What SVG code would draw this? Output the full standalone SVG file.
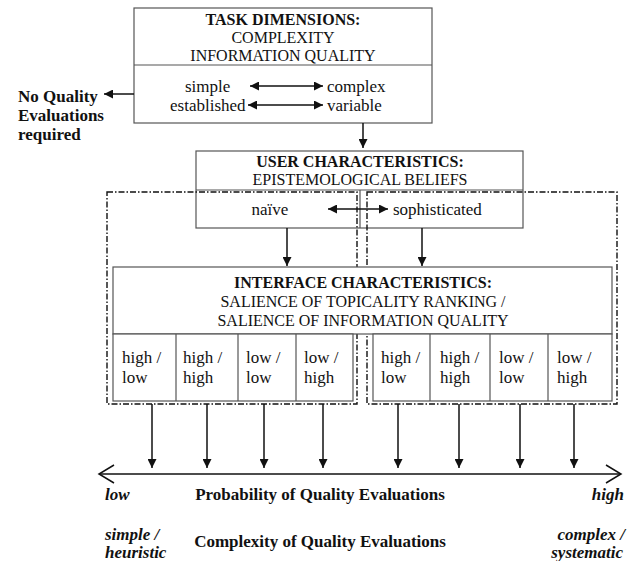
<svg xmlns="http://www.w3.org/2000/svg" width="633" height="561" viewBox="0 0 633 561">
<style>
text{font-family:"Liberation Serif","Times New Roman",serif;fill:#111}
.h{font-size:16px;font-weight:bold}
.s{font-size:16px}
.l{font-size:17px}
.b{font-size:17px;font-weight:bold}
.bi{font-size:17px;font-weight:bold;font-style:italic}
.box{fill:#fff;stroke:#555;stroke-width:1.2}
.ln{stroke:#555;stroke-width:1.2;fill:none}
.dd{fill:none;stroke:#111;stroke-width:1.4;stroke-dasharray:6 2 1.5 2}
.ar{stroke:#111;stroke-width:1.5;fill:none}
</style>
<defs>
<marker id="ah" viewBox="0 0 10 10" refX="10" refY="5" markerWidth="9" markerHeight="9" markerUnits="userSpaceOnUse" orient="auto-start-reverse">
<path d="M0,0 L10,5 L0,10 z" fill="#111"/>
</marker>
</defs>

<g id="task">
<rect class="box" x="134" y="8" width="298" height="115"/>
<line class="ln" x1="134" y1="65" x2="432" y2="65"/>
<text class="h" x="283" y="25" text-anchor="middle">TASK DIMENSIONS:</text>
<text class="s" x="283" y="43" text-anchor="middle">COMPLEXITY</text>
<text class="s" x="283" y="61" text-anchor="middle">INFORMATION QUALITY</text>
<text class="l" x="185" y="92">simple</text>
<text class="l" x="327" y="92">complex</text>
<text class="l" x="170" y="111">established</text>
<text class="l" x="327" y="111">variable</text>
</g>

<g id="no-quality">
<text class="b" x="18" y="102">No Quality</text>
<text class="b" x="18" y="121">Evaluations</text>
<text class="b" x="18" y="140">required</text>
</g>

<g id="user">
<rect class="box" x="196" y="151" width="327" height="77"/>
<line class="ln" x1="196" y1="190" x2="523" y2="190"/>
<line class="ln" x1="360" y1="190" x2="360" y2="228"/>
<text class="h" x="360" y="167" text-anchor="middle">USER CHARACTERISTICS:</text>
<text class="s" x="360" y="185" text-anchor="middle">EPISTEMOLOGICAL BELIEFS</text>
<text class="l" x="270" y="215" text-anchor="middle">naïve</text>
<text class="l" x="393" y="215">sophisticated</text>
</g>

<g id="group-naive">
<rect class="dd" x="107" y="192" width="250" height="212"/>
</g>
<g id="group-sophisticated">
<rect class="dd" x="367" y="192" width="250" height="212"/>
</g>

<g id="interface">
<rect class="box" x="113" y="267" width="499" height="67"/>
<text class="h" x="363" y="288" text-anchor="middle">INTERFACE CHARACTERISTICS:</text>
<text class="s" x="363" y="307" text-anchor="middle">SALIENCE OF TOPICALITY RANKING /</text>
<text class="s" x="363" y="326" text-anchor="middle">SALIENCE OF INFORMATION QUALITY</text>
</g>

<g id="cells-naive">
<rect class="box" x="113" y="334" width="240" height="67"/>
<line class="ln" x1="176" y1="334" x2="176" y2="401"/>
<line class="ln" x1="238" y1="334" x2="238" y2="401"/>
<line class="ln" x1="296" y1="334" x2="296" y2="401"/>
<text class="l" x="122" y="363">high /</text><text class="l" x="122" y="383">low</text>
<text class="l" x="183" y="363">high /</text><text class="l" x="183" y="383">high</text>
<text class="l" x="246" y="363">low /</text><text class="l" x="246" y="383">low</text>
<text class="l" x="304" y="363">low /</text><text class="l" x="304" y="383">high</text>
</g>

<g id="cells-sophisticated">
<rect class="box" x="373" y="334" width="239" height="67"/>
<line class="ln" x1="430" y1="334" x2="430" y2="401"/>
<line class="ln" x1="490" y1="334" x2="490" y2="401"/>
<line class="ln" x1="548" y1="334" x2="548" y2="401"/>
<text class="l" x="381" y="363">high /</text><text class="l" x="381" y="383">low</text>
<text class="l" x="440" y="363">high /</text><text class="l" x="440" y="383">high</text>
<text class="l" x="499" y="363">low /</text><text class="l" x="499" y="383">low</text>
<text class="l" x="557" y="363">low /</text><text class="l" x="557" y="383">high</text>
</g>

<g id="connectors">
<line class="ar" x1="250" y1="86" x2="323" y2="86" marker-start="url(#ah)" marker-end="url(#ah)"/>
<line class="ar" x1="248" y1="105" x2="323" y2="105" marker-start="url(#ah)" marker-end="url(#ah)"/>
<line class="ar" x1="134" y1="94" x2="104" y2="94" marker-end="url(#ah)"/>
<line class="ar" x1="363" y1="123" x2="363" y2="148" marker-end="url(#ah)"/>
<line class="ar" x1="328" y1="209" x2="388" y2="209" marker-start="url(#ah)" marker-end="url(#ah)"/>
<line class="ar" x1="287" y1="228" x2="287" y2="266" marker-end="url(#ah)"/>
<line class="ar" x1="422" y1="228" x2="422" y2="266" marker-end="url(#ah)"/>
<line class="ar" x1="152" y1="404" x2="152" y2="468" marker-end="url(#ah)"/>
<line class="ar" x1="207" y1="404" x2="207" y2="468" marker-end="url(#ah)"/>
<line class="ar" x1="264" y1="404" x2="264" y2="468" marker-end="url(#ah)"/>
<line class="ar" x1="323" y1="404" x2="323" y2="468" marker-end="url(#ah)"/>
<line class="ar" x1="398" y1="404" x2="398" y2="468" marker-end="url(#ah)"/>
<line class="ar" x1="459" y1="404" x2="459" y2="468" marker-end="url(#ah)"/>
<line class="ar" x1="520" y1="404" x2="520" y2="468" marker-end="url(#ah)"/>
<line class="ar" x1="574" y1="404" x2="574" y2="468" marker-end="url(#ah)"/>
<line class="ar" x1="99" y1="474" x2="621" y2="474"/>
<polyline class="ar" points="114,465 99,474 114,483"/>
<polyline class="ar" points="606,465 621,474 606,483"/>
</g>

<g id="axis-labels">
<text class="bi" x="105" y="500">low</text>
<text class="b" x="320" y="500" text-anchor="middle">Probability of Quality Evaluations</text>
<text class="bi" x="624" y="500" text-anchor="end">high</text>
<text class="bi" x="105" y="540">simple /</text>
<text class="bi" x="105" y="558">heuristic</text>
<text class="b" x="320" y="547" text-anchor="middle">Complexity of Quality Evaluations</text>
<text class="bi" x="625" y="540" text-anchor="end">complex /</text>
<text class="bi" x="623" y="558" text-anchor="end">systematic</text>
</g>
</svg>
